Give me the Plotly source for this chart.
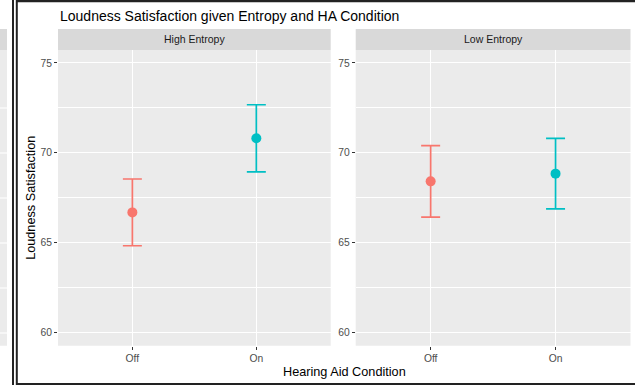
import plotly.graph_objects as go

W, H = 635, 385

# ---- data ----
conditions = ["Off", "On"]
panels = ["High Entropy", "Low Entropy"]
means = {"High Entropy": [66.67, 70.80], "Low Entropy": [68.40, 68.83]}
errs = {"High Entropy": [1.86, 1.87], "Low Entropy": [1.99, 1.96]}
colors = ["#F8766D", "#00BFC4"]
y_ticks = [60, 65, 70, 75]
y_minor = [62.5, 67.5, 72.5]

title = "Loudness Satisfaction given Entropy and HA Condition"
x_title = "Hearing Aid Condition"
y_title = "Loudness Satisfaction"

FONT = "Liberation Sans, Arial, sans-serif"

def px(x):
    return x / W

def py(y):
    return 1 - y / H

panel_top, panel_bot = 50, 345.7
strip_top = 29
x_doms = [(58, 330.7), (355.7, 630.5)]
y_range = [59.24, 75.72]

fig = go.Figure()
shapes = []
annotations = []

for i, p in enumerate(panels):
    xa = "x" if i == 0 else "x2"
    ya = "y" if i == 0 else "y2"
    for j, c in enumerate(conditions):
        fig.add_trace(go.Scatter(
            x=[c], y=[means[p][j]], mode="markers",
            marker=dict(color=colors[j], size=10),
            error_y=dict(type="data", array=[errs[p][j]], color=colors[j],
                         thickness=1.7, width=9.5),
            xaxis=xa, yaxis=ya, showlegend=False, hoverinfo="skip"))
    x0, x1 = x_doms[i]
    # strip
    shapes.append(dict(type="rect", xref="paper", yref="paper",
                       x0=px(x0), x1=px(x1), y0=py(panel_top), y1=py(strip_top),
                       fillcolor="#D9D9D9", line=dict(width=0), layer="below"))
    annotations.append(dict(text=p, xref="paper", yref="paper",
                            x=px((x0 + x1) / 2), y=py((strip_top + panel_top) / 2),
                            showarrow=False, xanchor="center", yanchor="middle",
                            font=dict(family=FONT, size=10.5, color="#1A1A1A")))

axis_common = dict(
    showgrid=True, gridcolor="white", gridwidth=1.1, zeroline=False,
    showline=False, ticks="outside", ticklen=3, tickwidth=1, tickcolor="#333333",
    tickfont=dict(family=FONT, size=10.3, color="#4D4D4D"),
)

for i in range(2):
    x0, x1 = x_doms[i]
    sfx = "" if i == 0 else "2"
    fig.update_layout(**{
        "xaxis" + sfx: dict(axis_common, domain=[px(x0), px(x1)],
                            type="category", categoryorder="array",
                            categoryarray=conditions, range=[-0.6, 1.6],
                            anchor="y" + sfx),
        "yaxis" + sfx: dict(axis_common, domain=[py(panel_bot), py(panel_top)],
                            range=y_range, tickvals=y_ticks,
                            minor=dict(tickvals=y_minor, showgrid=True,
                                       gridcolor="white", gridwidth=0.55, ticks=""),
                            anchor="x" + sfx),
    })
    shapes.append(dict(type="rect", xref="x" + sfx + " domain", yref="y" + sfx + " domain",
                       x0=0, x1=1, y0=0, y1=1, fillcolor="#EBEBEB",
                       line=dict(width=0), layer="below"))

# decorative screenshot frame: partial neighbouring panel on the left
shapes.append(dict(type="rect", xref="paper", yref="paper", x0=0, x1=px(7),
                   y0=py(panel_bot), y1=py(panel_top), fillcolor="#EBEBEB",
                   line=dict(width=0), layer="below"))
shapes.append(dict(type="rect", xref="paper", yref="paper", x0=0, x1=px(7),
                   y0=py(panel_top), y1=py(strip_top), fillcolor="#D9D9D9",
                   line=dict(width=0), layer="below"))
for gy in [108, 153, 198, 243, 288, 333]:
    shapes.append(dict(type="line", xref="paper", yref="paper", x0=0, x1=px(7),
                       y0=py(gy), y1=py(gy), line=dict(color="white", width=1.1),
                       layer="below"))
# frame lines
for lx in [13, 16.8]:
    shapes.append(dict(type="line", xref="paper", yref="paper", x0=px(lx), x1=px(lx),
                       y0=0, y1=1, line=dict(color="#222222", width=2)))
shapes.append(dict(type="line", xref="paper", yref="paper", x0=px(16), x1=1,
                   y0=py(1), y1=py(1), line=dict(color="#222222", width=2.5)))
shapes.append(dict(type="line", xref="paper", yref="paper", x0=px(16), x1=1,
                   y0=py(384), y1=py(384), line=dict(color="#222222", width=2)))

annotations.append(dict(text=title, xref="paper", yref="paper", x=px(58), y=py(16),
                        showarrow=False, xanchor="left", yanchor="middle",
                        font=dict(family=FONT, size=14, color="black")))
annotations.append(dict(text=x_title, xref="paper", yref="paper",
                        x=px((58 + 630.5) / 2), y=py(372),
                        showarrow=False, xanchor="center", yanchor="middle",
                        font=dict(family=FONT, size=12.7, color="black")))
annotations.append(dict(text=y_title, xref="paper", yref="paper",
                        x=px(31), y=py((panel_top + panel_bot) / 2), textangle=-90,
                        showarrow=False, xanchor="center", yanchor="middle",
                        font=dict(family=FONT, size=12.7, color="black")))

fig.update_layout(width=W, height=H, margin=dict(l=0, r=0, t=0, b=0),
                  paper_bgcolor="white", plot_bgcolor="rgba(0,0,0,0)",
                  shapes=shapes, annotations=annotations, showlegend=False)

fig.write_html("out.html")
